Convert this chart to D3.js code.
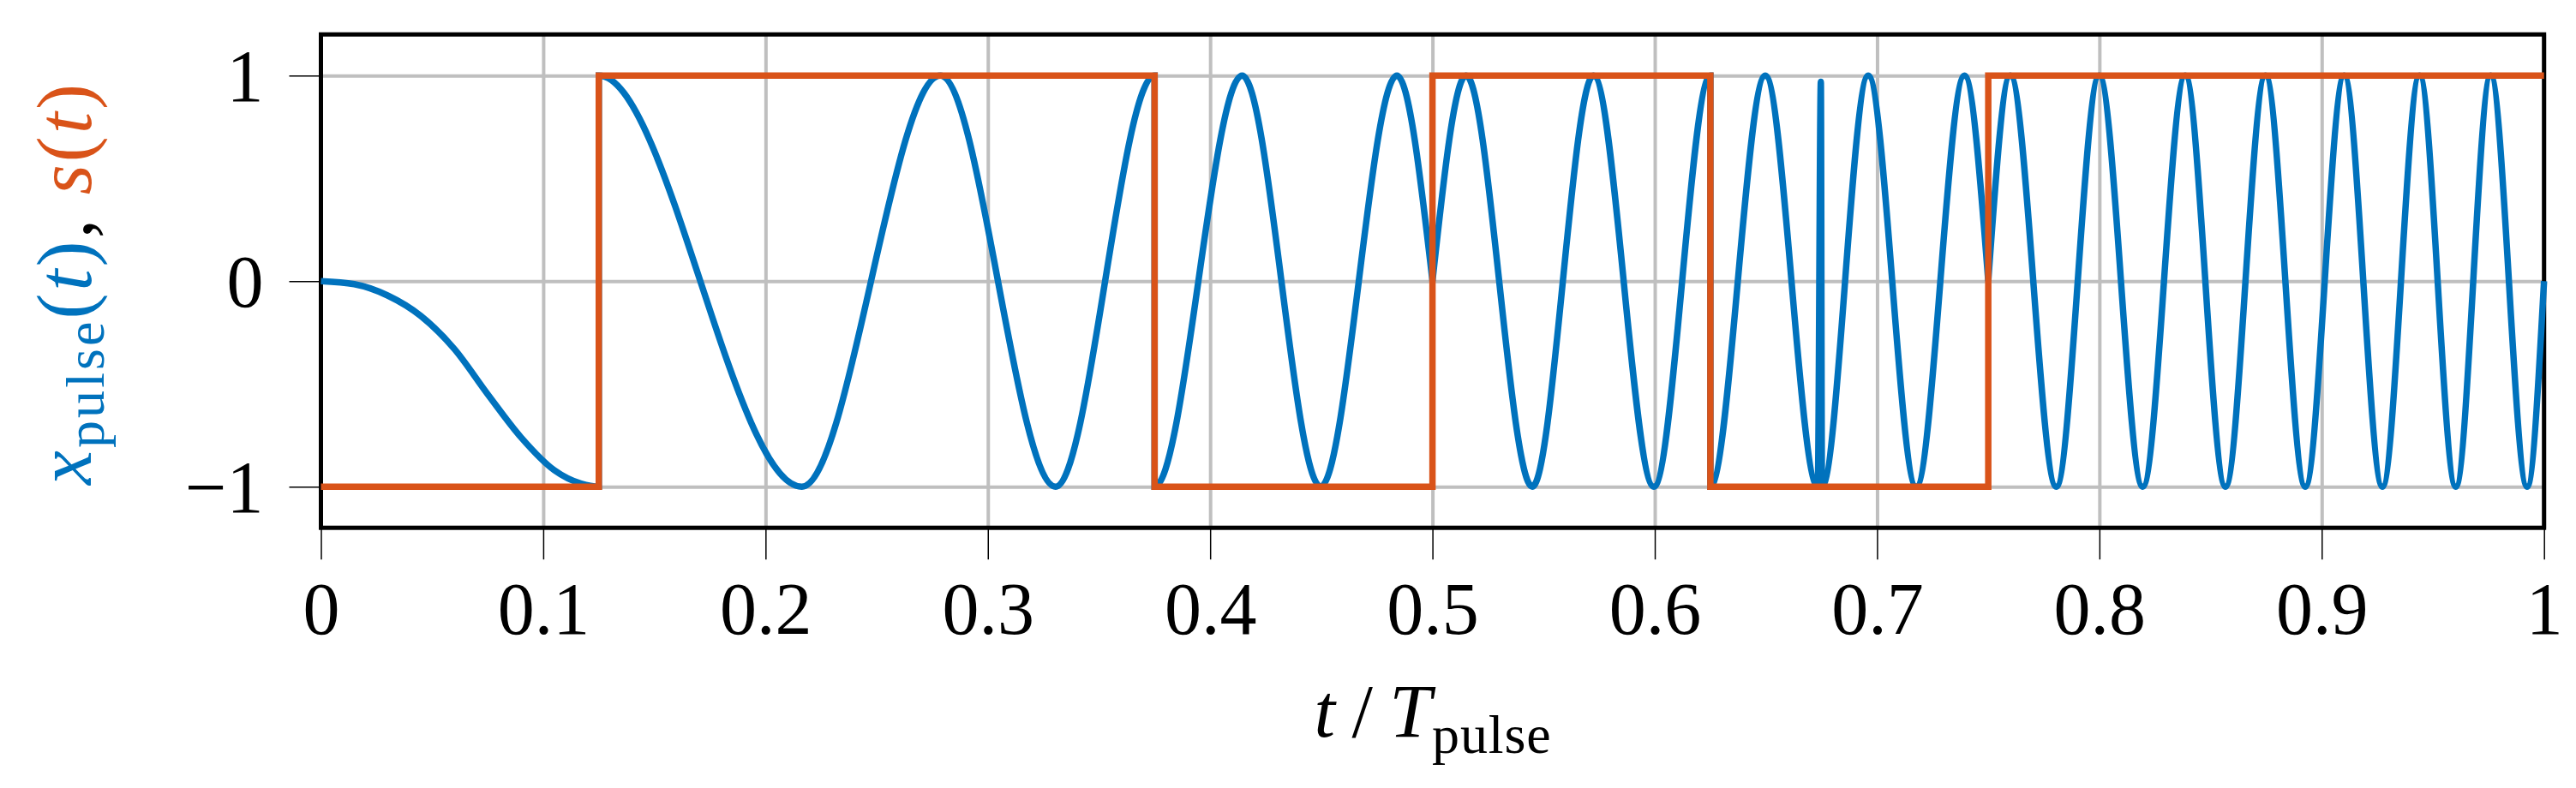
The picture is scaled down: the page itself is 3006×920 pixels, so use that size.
<!DOCTYPE html>
<html>
<head>
<meta charset="utf-8">
<script src="https://cdn.jsdelivr.net/npm/d3@7"></script>
<style>
  body { margin: 0; background: #fff; }
  svg { display: block; background: #fff; font-family: "Liberation Serif", serif; }
</style>
</head>
<body>
<svg width="3006" height="920"></svg>
<script>
// x axis ticks (t / T_pulse)
const tTicks = [0, 0.1, 0.2, 0.3, 0.4, 0.5, 0.6, 0.7, 0.8, 0.9, 1];
const tLabels = ["0", "0.1", "0.2", "0.3", "0.4", "0.5", "0.6", "0.7", "0.8", "0.9", "1"];
// y axis ticks
const yTicks = [-1, 0, 1];
const yLabels = ["\u22121", "0", "1"];

// s(t): switching instants and the level held after each one
const switchT = [0, 0.125, 0.375, 0.5, 0.625, 0.75, 1];
const switchS = [-1, 1, -1, 1, -1, 1, 1];

// x_pulse(t): points (start of the sweep, then peaks/troughs),
// null = break in the line (sharp corner at 0.5 and 0.75)
const pulseT = [
  0, 0.015, 0.03, 0.045, 0.06, 0.075, 0.09, 0.105, 0.117, 0.125,
  0.125, 0.2163, 0.2786, 0.3305, 0.375,
  0.375, 0.4144, 0.4497, 0.484, 0.5,
  null,
  0.5, 0.5151, 0.5449, 0.5724, 0.5996, 0.625,
  0.625, 0.6497, 0.6733, 0.6747, 0.6752, 0.696, 0.7176, 0.7393, 0.75,
  null,
  0.75, 0.7599, 0.7806, 0.7999, 0.8195, 0.8386, 0.8567, 0.8747, 0.8926, 0.9101,
  0.9273, 0.944, 0.9603, 0.976, 0.9924, 1
];
const pulseX = [
  0, -0.015, -0.07, -0.17, -0.33, -0.55, -0.76, -0.92, -0.985, -1,
  1, -1, 1, -1, 1,
  -1, 1, -1, 1, 0,
  null,
  0, 1, -1, 1, -1, 1,
  -1, 1, -1, 0.97, -1, 1, -1, 1, 0,
  null,
  0, 1, -1, 1, -1, 1, -1, 1, -1, 1,
  -1, 1, -1, 1, -1, 0
];

const blue = "#0072BD", orange = "#D95319";

const margin = { top: 40.2, right: 37.3, bottom: 303.8, left: 374.5 },
      width = 3006 - margin.left - margin.right,
      height = 920 - margin.top - margin.bottom;

const svg = d3.select("svg")
  .append("g")
  .attr("transform", `translate(${margin.left},${margin.top})`);

const x = d3.scaleLinear().domain([0, 1]).range([0, width]);
const y = d3.scaleLinear().domain([-1.2, 1.2]).range([height, 0]);

// Gridlines
svg.append("g")
  .attr("transform", `translate(0,${height})`)
  .call(d3.axisBottom(x).tickValues(tTicks).tickSize(-height).tickFormat(""))
  .call(g => g.select(".domain").remove())
  .selectAll("line").attr("stroke", "#bfbfbf").attr("stroke-width", 4);

svg.append("g")
  .call(d3.axisLeft(y).tickValues(yTicks).tickSize(-width).tickFormat(""))
  .call(g => g.select(".domain").remove())
  .selectAll("line").attr("stroke", "#bfbfbf").attr("stroke-width", 4);

// Frame
svg.append("rect")
  .attr("width", width)
  .attr("height", height)
  .attr("fill", "none")
  .attr("stroke", "#000")
  .attr("stroke-width", 5);

// Axes (outside ticks + labels)
const xAxis = svg.append("g")
  .attr("transform", `translate(0,${height})`)
  .call(d3.axisBottom(x).tickValues(tTicks).tickSize(37).tickFormat((d, i) => tLabels[i]));
xAxis.select(".domain").remove();
xAxis.selectAll("line").attr("stroke", "#000").attr("stroke-width", 1.5);
xAxis.selectAll("text")
  .attr("y", 124)
  .attr("dy", null)
  .attr("fill", "#000")
  .style("font-family", "Liberation Serif")
  .style("font-size", "86px");

const yAxis = svg.append("g")
  .call(d3.axisLeft(y).tickValues(yTicks).tickSize(37).tickFormat((d, i) => yLabels[i]));
yAxis.select(".domain").remove();
yAxis.selectAll("line").attr("stroke", "#000").attr("stroke-width", 1.5);
yAxis.selectAll("text")
  .attr("x", -67)
  .attr("y", 29)
  .attr("dy", null)
  .attr("fill", "#000")
  .style("font-family", "Liberation Serif")
  .style("font-size", "86px");

// x_pulse(t)
const pulse = pulseT.map((t, i) => ({ t, v: pulseX[i] }));
const pulseLine = d3.line()
  .defined(d => d.t !== null && d.v !== null)
  .x(d => x(d.t))
  .y(d => y(d.v))
  .curve(d3.curveMonotoneX);

svg.append("path")
  .datum(pulse)
  .attr("fill", "none")
  .attr("stroke", blue)
  .attr("stroke-width", 7.5)
  .attr("d", pulseLine);

// s(t)
const sData = switchT.map((t, i) => ({ t, v: switchS[i] }));
svg.append("path")
  .datum(sData)
  .attr("fill", "none")
  .attr("stroke", orange)
  .attr("stroke-width", 7.5)
  .attr("d", d3.line().x(d => x(d.t)).y(d => y(d.v)).curve(d3.curveStepAfter));

// Axis titles
const root = d3.select("svg");

const xTitle = root.append("text")
  .attr("x", margin.left + width / 2)
  .attr("y", 860)
  .attr("text-anchor", "middle")
  .attr("textLength", 276)
  .attr("lengthAdjust", "spacing")
  .style("font-size", "88px");
xTitle.append("tspan").style("font-style", "italic").text("t");
xTitle.append("tspan").text("\u2009/\u2009");
xTitle.append("tspan").style("font-style", "italic").text("T");
xTitle.append("tspan").attr("dy", 19).style("font-size", "64px").text("pulse");

const yTitle = root.append("text")
  .attr("transform", "translate(106,332) rotate(-90)")
  .attr("text-anchor", "middle")
  .attr("textLength", 468)
  .attr("lengthAdjust", "spacing")
  .style("font-size", "90px");
yTitle.append("tspan").attr("fill", blue).style("font-style", "italic").text("x");
yTitle.append("tspan").attr("fill", blue).attr("dy", 15).style("font-size", "64px").text("pulse");
yTitle.append("tspan").attr("fill", blue).attr("dy", -15).text("(");
yTitle.append("tspan").attr("fill", blue).style("font-style", "italic").text("t");
yTitle.append("tspan").attr("fill", blue).text(")");
yTitle.append("tspan").attr("fill", "#000").text(", ");
yTitle.append("tspan").attr("fill", orange).style("font-style", "italic").text("s");
yTitle.append("tspan").attr("fill", orange).text("(");
yTitle.append("tspan").attr("fill", orange).style("font-style", "italic").text("t");
yTitle.append("tspan").attr("fill", orange).text(")");
</script>
</body>
</html>
